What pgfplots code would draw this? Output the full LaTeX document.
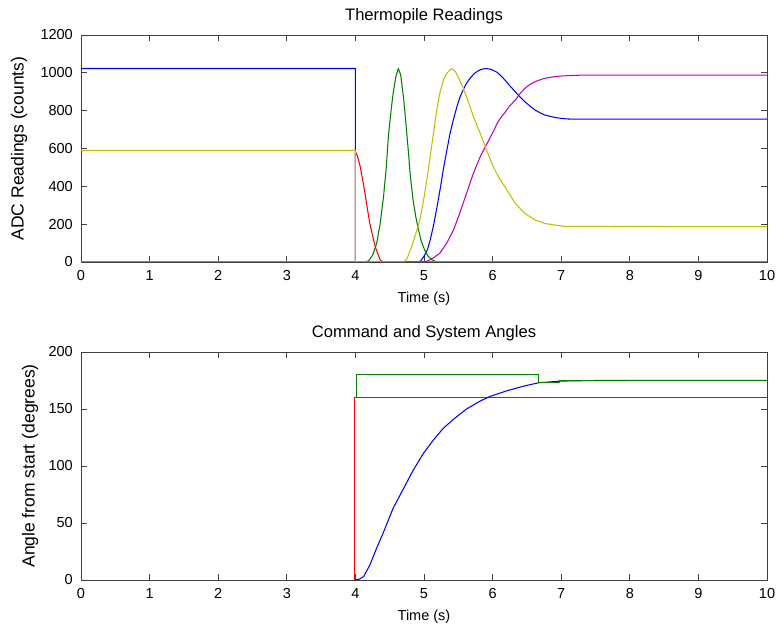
\documentclass[border=0pt]{standalone}
\usepackage{pgfplots}
\pgfplotsset{compat=1.18}
\usepackage{fontspec}
\setmainfont{Liberation Sans}
\definecolor{mblue}{rgb}{0,0,1}
\definecolor{mgreen}{rgb}{0,0.5,0}
\definecolor{mred}{rgb}{1,0,0}
\definecolor{mcyan}{rgb}{0,0.75,0.75}
\definecolor{mmag}{rgb}{0.75,0,0.75}
\definecolor{myel}{rgb}{0.75,0.75,0}
\newcommand{\fs}{\fontsize{14.5}{17}\selectfont}
\newcommand{\fl}{\fontsize{16.6}{19}\selectfont}
\newcommand{\fy}{\fontsize{17.5}{20}\selectfont}
\pgfplotsset{
  mstyle/.style={
    scale only axis, width=686pt,
    xmin=0, xmax=10, xtick={0,1,...,10},
    tick align=inside, major tick length=6pt,
    axis line style={black!75, line width=0.7pt},
    every tick/.style={black!75, line width=0.7pt},
    /pgf/number format/assume math mode=true,
    /pgf/number format/1000 sep={},
    tick label style={font=\fs, black},
    xticklabel style={anchor=base, yshift=-19pt, inner sep=0pt},
    yticklabel style={anchor=east, xshift=-8pt, inner sep=0pt},
    xlabel style={font=\fs, at={(0.5,0)}, anchor=base, yshift=-41pt},
    ylabel style={font=\fy, anchor=center},
    title style={font=\fl, at={(0.5,1)}, anchor=base, yshift=8pt},
    every axis plot/.append style={line width=1.05pt, line join=round},
  }
}
\begin{document}
\begin{tikzpicture}[x=1pt,y=1pt]
\useasboundingbox (0,0) rectangle (777,629);
\begin{axis}[mstyle, at={(81pt,367pt)}, anchor=south west, height=227pt,
  ymin=0, ymax=1200, ytick={0,200,...,1200},
  title={Thermopile Readings}, xlabel={Time (s)}, ylabel={ADC Readings (counts)},
  ylabel style={at={(axis description cs:-0.0904,0.5)}}]
% blue
\addplot[mblue] coordinates {(0,1023)(4,1023)(4,0)(4.9,0)(4.95,5)(5.0,30)(5.05,65)(5.09,116)(5.14,195)(5.19,292)(5.24,395)(5.28,486)(5.33,585)(5.38,680)(5.43,755)(5.48,821)(5.52,868)(5.57,909)(5.62,945)(5.67,971)(5.73,995)(5.79,1011)(5.85,1020)(5.91,1023)(5.98,1018)(6.06,1004)(6.12,985)(6.18,962)(6.25,932)(6.33,900)(6.40,872)(6.47,847)(6.55,823)(6.62,803)(6.69,789)(6.76,777)(6.84,770)(6.91,764)(7.0,759)(7.1,756)(7.2,755)(10,755)};
% green
\addplot[mgreen] coordinates {(4.0,0)(4.16,0)(4.2,10)(4.25,35)(4.31,99)(4.36,200)(4.41,345)(4.45,500)(4.48,662)(4.52,800)(4.55,892)(4.59,980)(4.625,1023)(4.66,990)(4.70,874)(4.73,760)(4.77,592)(4.80,460)(4.84,328)(4.88,240)(4.92,169)(4.96,110)(5.01,63)(5.06,30)(5.11,12)(5.18,2)(5.2,0)(10,0)};
% red
\addplot[mred] coordinates {(4,0)(4,583)(4.03,560)(4.07,504)(4.10,445)(4.14,363)(4.18,270)(4.21,204)(4.25,140)(4.29,81)(4.33,40)(4.36,12)(4.40,0)(10,0)};
% cyan
\addplot[mcyan] coordinates {(0,2)(10,2)};
% magenta
\addplot[mmag] coordinates {(4,0)(5.0,0)(5.05,5)(5.13,20)(5.23,46)(5.33,99)(5.43,169)(5.52,257)(5.62,363)(5.72,469)(5.82,557)(5.91,620)(6.01,690)(6.07,735)(6.13,768)(6.18,790)(6.24,821)(6.33,856)(6.40,890)(6.47,918)(6.55,940)(6.62,953)(6.69,963)(6.76,971)(6.84,976)(6.91,980)(7.0,983)(7.1,985)(7.3,988)(10,988)};
% yellow
\addplot[myel] coordinates {(0,590)(4,590)(4,0)(4.70,0)(4.75,15)(4.82,81)(4.88,150)(4.94,222)(5.0,340)(5.06,480)(5.13,660)(5.18,790)(5.23,892)(5.28,960)(5.33,997)(5.40,1023)(5.46,1005)(5.52,962)(5.57,920)(5.62,874)(5.67,822)(5.72,768)(5.77,724)(5.82,680)(5.91,592)(6.01,504)(6.10,440)(6.18,398)(6.24,363)(6.33,310)(6.47,257)(6.62,222)(6.76,204)(6.91,195)(7.06,188)(10,187)};
\end{axis}
\begin{axis}[mstyle, at={(81pt,49pt)}, anchor=south west, height=228pt,
  ymin=0, ymax=200, ytick={0,50,...,200},
  title={Command and System Angles}, xlabel={Time (s)}, ylabel={Angle from start (degrees)},
  ylabel style={at={(axis description cs:-0.0743,0.5)}}]
% red command
\addplot[mred] coordinates {(3.985,0)(3.985,160)(10,160)};
% blue actual
\addplot[mblue] coordinates {(4,0)(4.06,0.8)(4.12,3)(4.21,13)(4.31,28)(4.41,42)(4.55,63)(4.70,80)(4.84,96)(4.99,111)(5.14,123)(5.28,133)(5.43,141)(5.62,150)(5.82,157)(5.96,161)(6.21,166)(6.45,170)(6.67,173)(7.0,174.5)(7.5,175)(10,175.1)};
% green
\addplot[mgreen] coordinates {(4.01,160)(4.01,180)(6.67,180)(6.67,173.5)(6.97,173.5)(6.97,175.1)(10,175.1)};
\end{axis}
\end{tikzpicture}
\end{document}
